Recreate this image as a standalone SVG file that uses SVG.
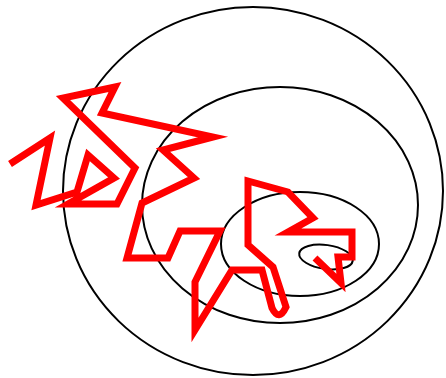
<svg xmlns="http://www.w3.org/2000/svg" width="446" height="378" viewBox="0 0 446 378">
<style>
.e{fill:none;stroke:#000;stroke-width:2}
.r{fill:none;stroke:#f00;stroke-width:7;stroke-linejoin:miter;stroke-miterlimit:10}
</style>
<rect width="446" height="378" fill="#fff"/>
<g id="outer"><ellipse class="e" cx="253" cy="191" rx="190" ry="184"/></g>
<g id="middle"><ellipse class="e" cx="280" cy="205" rx="138" ry="118"/></g>
<g id="inner"><ellipse class="e" cx="300" cy="244" rx="79" ry="52"/></g>
<g id="tiny"><ellipse class="e" cx="326" cy="257" rx="27" ry="12" transform="rotate(8 326 257)"/></g>
<g id="connectors">
<path class="r" d="M10,164 L50,138 L36,205 L77,192 L88,155 L114,178 L68,204 L117,204 L135,168 L63,98 L115,87 L102,113 L213,137 L163,150 L194,178 L142,203 L127,258 L168,258 L180,231 L220,231 L195,282 L195,330 L232,270 L262,270 L272,308 Q279,322 286,307 L273,267 L248,245 L248,181 L288,192 L313,218 L288,232 L352,232 L352,257 L338,257 L341,283 L315,258"/>
</g>
</svg>
